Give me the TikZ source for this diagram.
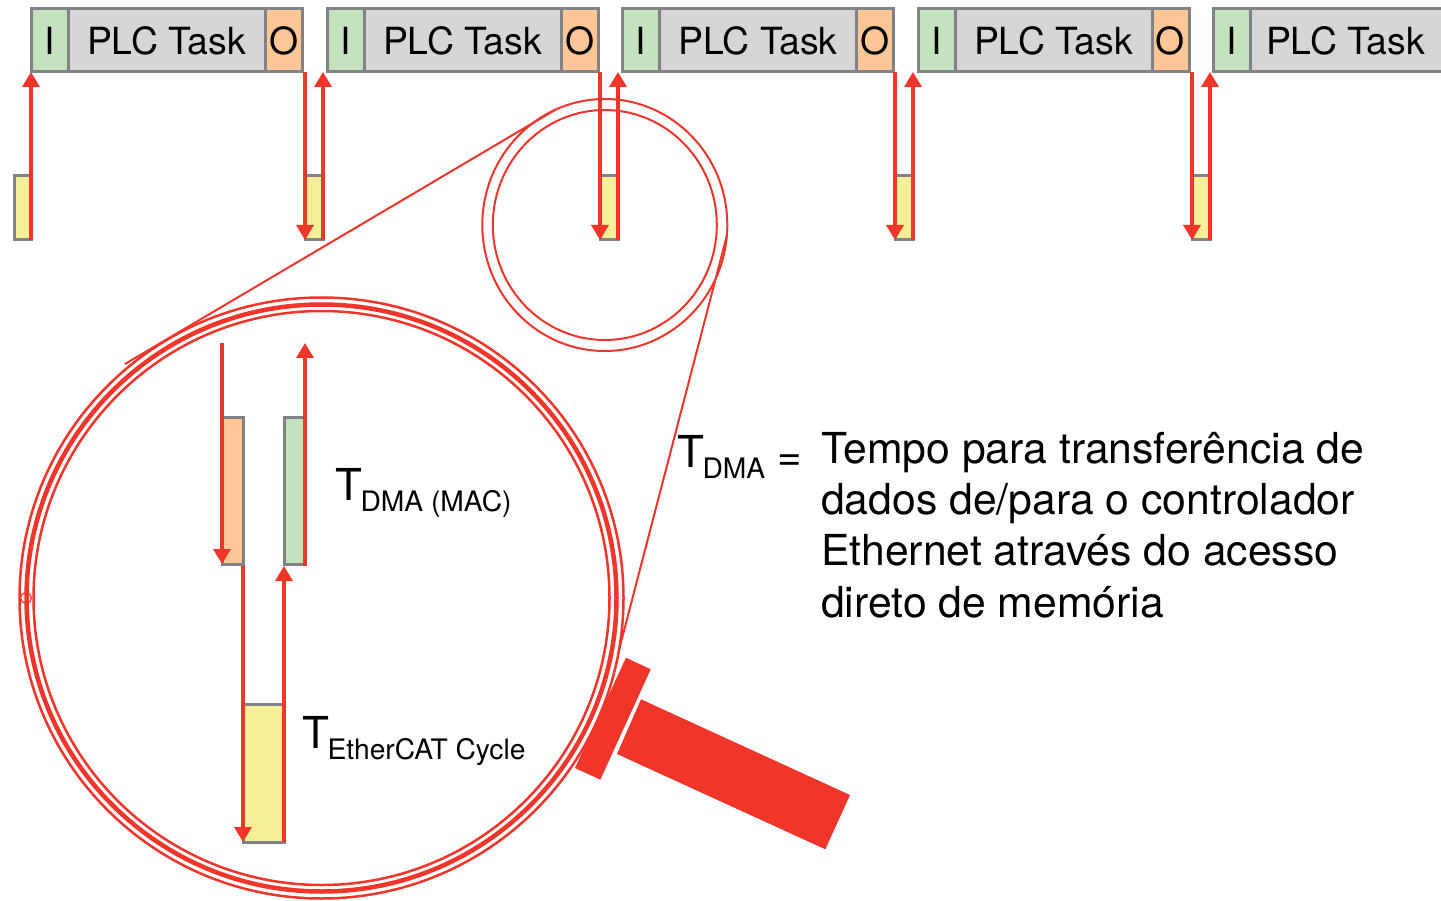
\documentclass[tikz,border=0pt]{standalone}
\usepackage{fontspec}
\setmainfont{TeX Gyre Heros}
\usetikzlibrary{arrows.meta,shapes.geometric}
\definecolor{inputgreen}{HTML}{C4E2BE}
\definecolor{taskgrey}{HTML}{D5D6D5}
\definecolor{outputorange}{HTML}{FEC795}
\definecolor{cycleyellow}{HTML}{F5F097}
\definecolor{edgegrey}{HTML}{808285}
\definecolor{lensred}{HTML}{F0352B}
\newcommand{\bigsub}[2]{\fontsize{44}{48}\selectfont #1\kern-1.5pt\raisebox{-0.25em}{\fontsize{28.2}{30}\selectfont #2}}

\begin{document}
\begin{tikzpicture}[x=1pt, y=-1pt]
            \tikzstyle{block}=[draw=edgegrey,line width=3pt,inner sep=0pt,outer sep=0pt,text=black,font=\fontsize{37.4}{40}\selectfont]
            \tikzstyle{input}=[block,fill=inputgreen,minimum width=37pt,minimum height=63pt]
            \tikzstyle{task}=[block,fill=taskgrey,minimum width=197pt,minimum height=63pt]
            \tikzstyle{output}=[block,fill=outputorange,minimum width=37pt,minimum height=63pt]
            \tikzstyle{cycle}=[block,fill=cycleyellow,minimum width=18pt,minimum height=64pt]
            \tikzstyle{signal}=[draw=lensred,line width=3.5pt,-{Triangle[length=15pt,width=17pt]}]
            \tikzstyle{ring}=[ellipse,draw=lensred,inner sep=0pt,outer sep=0pt,line width=2pt]
            \tikzstyle{ray}=[draw=lensred,line width=2pt]
            \tikzstyle{handle}=[fill=lensred]
            \tikzstyle{label}=[inner sep=0pt,anchor=base west]

            \useasboundingbox (0,0) rectangle (1441,901);

            \node[input] (I_1) at (49.5,40.5) {I};
            \node[task] (T_1) at (166.5,40.5) {PLC Task};
            \node[output] (O_1) at (283.5,40.5) {\hspace{1.5pt}O};
            \node[input] (I_2) at (345.5,40.5) {I};
            \node[task] (T_2) at (462.5,40.5) {PLC Task};
            \node[output] (O_2) at (579.5,40.5) {\hspace{1.5pt}O};
            \node[input] (I_3) at (641,40.5) {I};
            \node[task] (T_3) at (758,40.5) {PLC Task};
            \node[output] (O_3) at (875,40.5) {O};
            \node[input] (I_4) at (936.5,40.5) {I};
            \node[task] (T_4) at (1053.5,40.5) {PLC Task};
            \node[output] (O_4) at (1170.5,40.5) {O};
            \node[input] (I_5) at (1232,40.5) {I};
            \node[task] (T_5) at (1349,40.5) {\hspace{-7pt}PLC Task};

            \node[cycle,minimum width=17pt] (C_1) at (22.5,208) {};
            \node[cycle] (C_2) at (314,208) {};
            \node[cycle] (C_3) at (609,208) {};
            \node[cycle] (C_4) at (904,208) {};
            \node[cycle] (C_5) at (1201,208) {};

            \draw[signal] (C_1.south east) -- (C_1.south east |- I_1.south);
            \draw[signal] (C_2.south west |- O_1.south) -- (C_2.south west);
            \draw[signal] (C_2.south east) -- (C_2.south east |- I_2.south);
            \draw[signal] (C_3.south west |- O_2.south) -- (C_3.south west);
            \draw[signal] (C_3.south east) -- (C_3.south east |- I_3.south);
            \draw[signal] (C_4.south west |- O_3.south) -- (C_4.south west);
            \draw[signal] (C_4.south east) -- (C_4.south east |- I_4.south);
            \draw[signal] (C_5.south west |- O_4.south) -- (C_5.south west);
            \draw[signal] (C_5.south east) -- (C_5.south east |- I_5.south);

            % lens over the third gap
            \node[ring,minimum width=245pt,minimum height=252pt] (lens_out) at (604.8,225) {};
            \node[ring,minimum width=224pt,minimum height=230pt] (lens_in) at (604.8,225) {};

            % enlarged view
            \node[ring,minimum width=604pt,minimum height=601pt,line width=2.5pt] (big_out) at (321.5,598) {};
            \node[ring,minimum width=590pt,minimum height=587pt,line width=4.5pt] (big_mid) at (321.5,598) {};
            \node[ring,minimum width=576pt,minimum height=574pt,line width=2.5pt] (big_in) at (321.5,598) {};
            \node[ring,minimum width=11pt,minimum height=11pt,line width=1.2pt] (big_dot) at (26,598) {};
            \coordinate (lens_end) at (125,364);
            \draw[ray] (lens_end) -- (lens_out.113);
            \draw[ray] (lens_out.-5) -- (big_out.-10);

            \node[block,fill=outputorange,minimum width=21pt,minimum height=147pt] (O_big) at (232.5,490.5) {};
            \node[block,fill=inputgreen,minimum width=21pt,minimum height=147pt] (I_big) at (294.5,490.5) {};
            \node[block,fill=cycleyellow,minimum width=41pt,minimum height=138pt] (C_big) at (263.5,773) {};
            \coordinate (O_top) at (222,343);
            \coordinate (I_top) at (305,343);
            \coordinate (O_low) at (243,566);
            \coordinate (I_low) at (284,566);
            \coordinate (I_foot) at (305,566);

            \draw[signal] (O_top) -- (O_top |- O_big.south);
            \draw[signal] (I_foot) -- (I_top);
            \draw[signal] (O_low) -- (C_big.south west);
            \draw[signal] (C_big.south east) -- (I_low);

            \fill[handle] (626,657.7) -- (650.7,669.3) -- (600.3,779.7) -- (575,768) -- cycle;
            \fill[handle] (641,699.3) -- (850,795) -- (825.3,849.3) -- (617,754) -- cycle;

            \node[label] (t_mac) at (335,500) {\bigsub{T}{DMA (MAC)}};
            \node[label] (t_cycle) at (302,748) {\bigsub{T}{EtherCAT Cycle}};
            \node[label] (t_dma) at (677,467) {\bigsub{T}{DMA}};
            \node[label,font=\fontsize{42}{46}\selectfont] (t_eq) at (777,470) {=};
            \node[label,align=left,font=\fontsize{42.7}{51.1}\selectfont] (t_text) at (821,617) {Tempo para transferência de\\dados de/para o controlador\\Ethernet através do acesso\\direto de memória};
        \end{tikzpicture}
\end{document}
